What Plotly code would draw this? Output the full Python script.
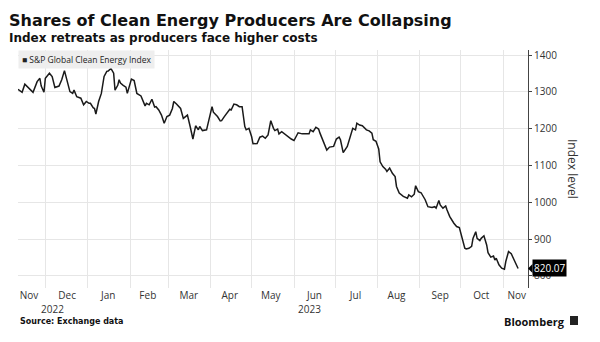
import plotly.graph_objects as go

# ---- data ----
dates = [
    "2022-11-11", "2022-11-14", "2022-11-16", "2022-11-18", "2022-11-20", "2022-11-21", "2022-11-22",
    "2022-11-25", "2022-11-27", "2022-11-28", "2022-11-30", "2022-12-01", "2022-12-04", "2022-12-06",
    "2022-12-07", "2022-12-08", "2022-12-11", "2022-12-13", "2022-12-15", "2022-12-17", "2022-12-19",
    "2022-12-21", "2022-12-22", "2022-12-24", "2022-12-27", "2022-12-29", "2022-12-31", "2023-01-02",
    "2023-01-03", "2023-01-05", "2023-01-06", "2023-01-07", "2023-01-09", "2023-01-11", "2023-01-13",
    "2023-01-15", "2023-01-16", "2023-01-18", "2023-01-20", "2023-01-21", "2023-01-23", "2023-01-24",
    "2023-01-25", "2023-01-27", "2023-01-29", "2023-01-30", "2023-02-01", "2023-02-02", "2023-02-04",
    "2023-02-06", "2023-02-09", "2023-02-11", "2023-02-12", "2023-02-13", "2023-02-15", "2023-02-17",
    "2023-02-19", "2023-02-20", "2023-02-22", "2023-02-24", "2023-02-25", "2023-02-26", "2023-02-28",
    "2023-03-02", "2023-03-04", "2023-03-05", "2023-03-07", "2023-03-10", "2023-03-12", "2023-03-15",
    "2023-03-17", "2023-03-19", "2023-03-21", "2023-03-23", "2023-03-24", "2023-03-26", "2023-03-29",
    "2023-03-31", "2023-04-02", "2023-04-03", "2023-04-06", "2023-04-08", "2023-04-09", "2023-04-11",
    "2023-04-13", "2023-04-15", "2023-04-16", "2023-04-18", "2023-04-20", "2023-04-22", "2023-04-24",
    "2023-04-26", "2023-04-27", "2023-04-29", "2023-05-01", "2023-05-02", "2023-05-05", "2023-05-07",
    "2023-05-09", "2023-05-11", "2023-05-13", "2023-05-15", "2023-05-17", "2023-05-18", "2023-05-20",
    "2023-05-21", "2023-05-23", "2023-05-26", "2023-05-28", "2023-05-30", "2023-06-01", "2023-06-03",
    "2023-06-04", "2023-06-07", "2023-06-09", "2023-06-12", "2023-06-13", "2023-06-15", "2023-06-17",
    "2023-06-19", "2023-06-20", "2023-06-22", "2023-06-25", "2023-06-27", "2023-06-30", "2023-07-02",
    "2023-07-04", "2023-07-05", "2023-07-07", "2023-07-10", "2023-07-12", "2023-07-14", "2023-07-16",
    "2023-07-17", "2023-07-19", "2023-07-21", "2023-07-24", "2023-07-26", "2023-07-28", "2023-07-29",
    "2023-07-31", "2023-08-02", "2023-08-03", "2023-08-05", "2023-08-07", "2023-08-08", "2023-08-10",
    "2023-08-12", "2023-08-14", "2023-08-15", "2023-08-17", "2023-08-20", "2023-08-23", "2023-08-24",
    "2023-08-26", "2023-08-28", "2023-08-29", "2023-08-31", "2023-09-02", "2023-09-03", "2023-09-05",
    "2023-09-07", "2023-09-10", "2023-09-12", "2023-09-13", "2023-09-15", "2023-09-16", "2023-09-18",
    "2023-09-20", "2023-09-21", "2023-09-23", "2023-09-26", "2023-09-28", "2023-09-30", "2023-10-02",
    "2023-10-04", "2023-10-05", "2023-10-07", "2023-10-09", "2023-10-10", "2023-10-12", "2023-10-13",
    "2023-10-15", "2023-10-16", "2023-10-18", "2023-10-20", "2023-10-21", "2023-10-23", "2023-10-25",
    "2023-10-26", "2023-10-27", "2023-10-29", "2023-10-31", "2023-11-02", "2023-11-03", "2023-11-05",
    "2023-11-07", "2023-11-09", "2023-11-10", "2023-11-12",
]
index_level = [
    1307, 1299, 1321, 1313, 1307, 1303, 1299,
    1328, 1337, 1316, 1299, 1337, 1351, 1342,
    1324, 1312, 1316, 1333, 1358, 1333, 1301,
    1296, 1305, 1287, 1283, 1265, 1274, 1269,
    1269, 1257, 1255, 1240, 1274, 1296, 1342,
    1356, 1357, 1364, 1351, 1305, 1318, 1333,
    1324, 1318, 1313, 1296, 1324, 1335, 1331,
    1296, 1289, 1274, 1262, 1269, 1265, 1280,
    1259, 1260, 1251, 1237, 1228, 1215, 1233,
    1237, 1255, 1274, 1267, 1255, 1228, 1237,
    1206, 1172, 1208, 1197, 1206, 1195, 1197,
    1233, 1260, 1245, 1233, 1221, 1222, 1233,
    1242, 1253, 1251, 1267, 1265, 1260, 1260,
    1206, 1197, 1201, 1178, 1159, 1160, 1177,
    1180, 1174, 1183, 1222, 1201, 1195, 1199,
    1186, 1192, 1183, 1178, 1172, 1168, 1183,
    1189, 1186, 1186, 1186, 1197, 1192, 1204,
    1199, 1188, 1170, 1142, 1150, 1152, 1172,
    1177, 1170, 1135, 1152, 1174, 1201, 1197,
    1215, 1210, 1208, 1197, 1194, 1188, 1170,
    1166, 1145, 1110, 1097, 1090, 1084, 1093,
    1079, 1070, 1043, 1025, 1016, 1011, 1020,
    1015, 1022, 1045, 1029, 1026, 1020, 1007,
    988, 986, 988, 984, 1005, 993, 984,
    990, 979, 961, 943, 934, 931, 902,
    875, 873, 875, 880, 902, 920, 902,
    896, 902, 909, 884, 863, 851, 854,
    843, 848, 830, 821, 818, 839, 866,
    860, 845, 839, 820.07,
]
series_name = "S&P Global Clean Energy Index"

month_label_dates = ["2022-11-19", "2022-12-17", "2023-01-16", "2023-02-14", "2023-03-16",
                     "2023-04-15", "2023-05-15", "2023-06-16", "2023-07-16", "2023-08-15",
                     "2023-09-16", "2023-10-16", "2023-11-11"]
month_labels = ["Nov", "Dec", "Jan", "Feb", "Mar", "Apr", "May", "Jun", "Jul", "Aug", "Sep", "Oct", "Nov"]
month_starts = ["2022-12-01", "2023-01-01", "2023-02-01", "2023-03-01", "2023-04-01", "2023-05-01",
                "2023-06-01", "2023-07-01", "2023-08-01", "2023-09-01", "2023-10-01", "2023-11-01"]
year_label_dates = ["2022-12-06", "2023-06-12"]
year_labels = ["2022", "2023"]
y_ticks = [800, 900, 1000, 1100, 1200, 1300, 1400]

FONT = "Open Sans"
HFONT = "DejaVu Sans"
TXT = "#333333"
GRID = "#e6e6e6"

fig = go.Figure()
fig.add_trace(go.Scatter(
    x=dates, y=index_level, mode="lines", name=series_name,
    line=dict(color="#1a1a1a", width=1.5), showlegend=False,
))

# plot area: left 18px, right 528px, top 50px, bottom 288px
PL, PR, PT, PB = 18, 528, 50, 288
W, H = 600, 342
pw, ph = PR - PL, PB - PT


def px_x(x):
    return (x - PL) / pw


def px_y(y):
    return (PB - y) / ph


fig.update_layout(
    width=W, height=H,
    margin=dict(l=PL, r=W - PR, t=PT, b=H - PB, pad=0),
    paper_bgcolor="white", plot_bgcolor="white",
    font=dict(family=FONT, color=TXT, size=10),
    xaxis=dict(
        type="date", range=["2022-11-11", "2023-11-19 06:00"],
        tickmode="array", tickvals=month_label_dates, ticktext=month_labels,
        showgrid=False, ticks="", showline=False, zeroline=False,
        tickfont=dict(size=10, color=TXT, family=FONT),
        minor=dict(tickmode="array", tickvals=month_starts, showgrid=True,
                   gridcolor=GRID, gridwidth=1, ticks=""),
    ),
    yaxis=dict(
        side="right", range=[767, 1414], tickmode="array", tickvals=y_ticks,
        showgrid=True, gridcolor=GRID, gridwidth=1, zeroline=False,
        showline=True, linecolor="#444444", linewidth=1,
        ticks="outside", ticklen=3, tickcolor="#444444",
        tickfont=dict(size=10, color=TXT, family=FONT),
    ),
)

ann = []
# titles
ann.append(dict(text="<b>Shares of Clean Energy Producers Are Collapsing</b>", xref="paper", yref="paper",
                x=px_x(7), y=px_y(20.5), xanchor="left", yanchor="middle", showarrow=False,
                font=dict(size=16, color="#111111", family=HFONT)))
ann.append(dict(text="<b>Index retreats as producers face higher costs</b>", xref="paper", yref="paper",
                x=px_x(7), y=px_y(38), xanchor="left", yanchor="middle", showarrow=False,
                font=dict(size=12, color="#111111", family=HFONT)))
# legend box
ann.append(dict(text="■ " + series_name, xref="paper", yref="paper",
                x=0, y=1, xanchor="left", yanchor="top", showarrow=False,
                bgcolor="#eeeeee", borderpad=3,
                font=dict(size=8.5, color="#222222", family=FONT)))
# year labels
for d, t in zip(year_label_dates, year_labels):
    ann.append(dict(text=t, xref="x", yref="paper", x=d, y=px_y(309), xanchor="center",
                    yanchor="middle", showarrow=False, font=dict(size=10, color=TXT, family=FONT)))
# y-axis title
ann.append(dict(text="Index level", xref="paper", yref="paper", x=px_x(573), y=px_y(169),
                xanchor="center", yanchor="middle", textangle=90, showarrow=False,
                font=dict(size=12, color=TXT, family=FONT)))
# last value label
last_val = index_level[-1]
ann.append(dict(text=f"{last_val:.2f}", xref="paper", yref="y", x=px_x(532), y=last_val,
                xanchor="left", yanchor="middle", showarrow=False, bgcolor="#000000",
                borderpad=1, font=dict(size=10, color="white", family=FONT)))
# footer
ann.append(dict(text="<b>Source: Exchange data</b>", xref="paper", yref="paper", x=0, y=px_y(321),
                xanchor="left", yanchor="middle", showarrow=False,
                font=dict(size=8, color="#111111", family=HFONT)))
ann.append(dict(text="<b>Bloomberg</b>", xref="paper", yref="paper", x=px_x(567), y=px_y(321),
                xanchor="right", yanchor="middle", showarrow=False,
                font=dict(size=11, color="#111111", family=FONT)))
fig.update_layout(annotations=ann)

shapes = [
    # pointer of the last-value label
    dict(type="path", xref="paper", yref="y",
         path=f"M {px_x(528)},{last_val} L {px_x(532.5)},{last_val + 12} L {px_x(532.5)},{last_val - 12} Z",
         fillcolor="#000000", line=dict(width=0)),
    # Bloomberg logo square
    dict(type="rect", xref="paper", yref="paper", x0=px_x(570), x1=px_x(578),
         y0=px_y(325), y1=px_y(316), fillcolor="#222222", line=dict(width=0)),
]
fig.update_layout(shapes=shapes)

fig.write_html("out.html")
